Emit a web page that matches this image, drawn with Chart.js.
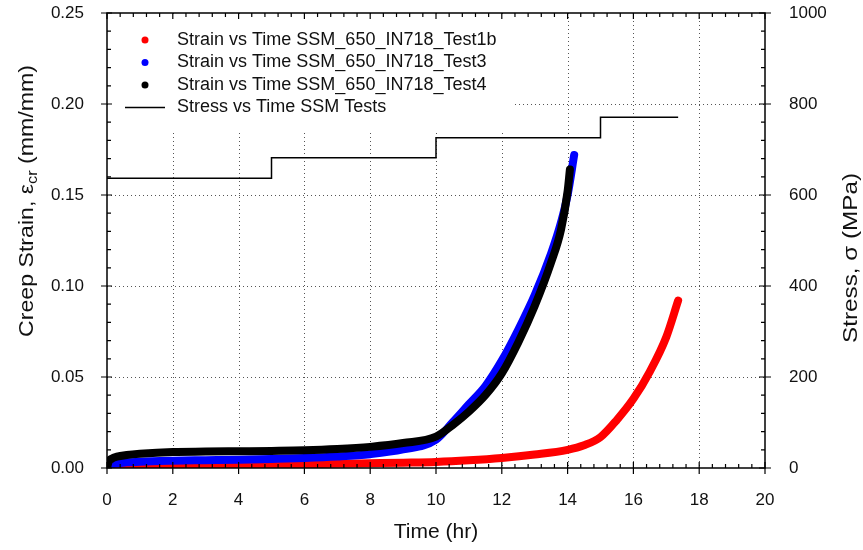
<!DOCTYPE html>
<html>
<head>
<meta charset="utf-8">
<script src="https://cdn.jsdelivr.net/npm/chart.js@4.4.1/dist/chart.umd.min.js"></script>
<style>
  html, body { margin: 0; padding: 0; background: #fff; }
  #creepChart { display: block; }
</style>
</head>
<body>
<canvas id="creepChart" width="863" height="550"></canvas>
<script>
// creep strain (mm/mm) vs time (hr)
const timeTest1b   = [0, 0.5, 1, 2, 3, 4, 5, 6, 7, 8, 9, 10, 11, 12, 13, 14, 14.5, 15, 15.5, 16, 16.5, 17, 17.36];
const strainTest1b = [0, 0.0005, 0.0008, 0.0012, 0.0015, 0.0017, 0.0019, 0.0021, 0.0023, 0.0026, 0.0029, 0.0033,
                      0.0042, 0.0055, 0.0074, 0.0100, 0.0125, 0.0170, 0.0265, 0.0380, 0.0530, 0.0720, 0.0920];

const timeTest3   = [0, 0.1, 0.3, 0.6, 1, 2, 3, 4, 5, 6, 7, 8, 9, 10, 10.5, 11, 11.5, 12, 12.5, 13, 13.5, 13.8, 14, 14.2];
const strainTest3 = [0, 0.0015, 0.0025, 0.0031, 0.0035, 0.0040, 0.0043, 0.0046, 0.0050, 0.0055, 0.0063, 0.0076,
                     0.0102, 0.0155, 0.0250, 0.0350, 0.0450, 0.0590, 0.0760, 0.0950, 0.1180, 0.1350, 0.1500, 0.1720];

const timeTest4   = [0, 0.05, 0.15, 0.3, 0.6, 1, 2, 3, 4, 5, 6, 7, 8, 9, 10, 10.5, 11, 11.5, 12, 12.5, 13, 13.5, 13.8, 14, 14.07];
const strainTest4 = [0, 0.0035, 0.0052, 0.0062, 0.0071, 0.0078, 0.0088, 0.0090, 0.0092, 0.0094, 0.0097, 0.0104, 0.0116,
                     0.0137, 0.0172, 0.0235, 0.0310, 0.0400, 0.0520, 0.0690, 0.0890, 0.1130, 0.1310, 0.1520, 0.1640];

// applied stress steps (MPa)
const stressTime = [0, 5, 10, 15, 17.36];
const stressMPa  = [637, 682, 726, 771, 771];

const legendLabels = [
  'Strain vs Time SSM_650_IN718_Test1b',
  'Strain vs Time SSM_650_IN718_Test3',
  'Strain vs Time SSM_650_IN718_Test4',
  'Stress vs Time SSM Tests'
];

const FONT = '"Liberation Sans", Arial, sans-serif';
const INK = '#111';

function toPoints(xs, ys) {
  return xs.map((x, i) => ({ x: x, y: ys[i] }));
}

function strainSet(label, xs, ys, color, order) {
  return {
    label: label,
    data: toPoints(xs, ys),
    showLine: true,
    cubicInterpolationMode: 'monotone',
    borderColor: color,
    backgroundColor: color,
    borderWidth: 8,
    borderCapStyle: 'round',
    borderJoinStyle: 'round',
    pointRadius: 0,
    yAxisID: 'y',
    order: order
  };
}

function drawVerticalTitle(ctx, parts, cx, cy, size, targetLen) {
  ctx.save();
  ctx.translate(cx, cy);
  ctx.rotate(-Math.PI / 2);
  const widths = parts.map(p => {
    ctx.font = (p.sub ? Math.round(size * 0.68) : size) + 'px ' + FONT;
    return ctx.measureText(p.text).width;
  });
  const total = widths.reduce((a, b) => a + b, 0);
  ctx.scale(targetLen / total, 1);
  ctx.textAlign = 'left';
  ctx.textBaseline = 'middle';
  ctx.fillStyle = INK;
  let x = -total / 2;
  parts.forEach((p, i) => {
    ctx.font = (p.sub ? Math.round(size * 0.68) : size) + 'px ' + FONT;
    ctx.fillText(p.text, x, p.sub ? size * 0.3 : 0);
    x += widths[i];
  });
  ctx.restore();
}

const framePlugin = {
  id: 'frame',
  beforeDatasetsDraw(chart) {
    const { ctx, chartArea: a, scales } = chart;
    ctx.save();
    // dotted grid at major ticks
    ctx.strokeStyle = '#555';
    ctx.lineWidth = 1;
    ctx.setLineDash([1, 3]);
    ctx.beginPath();
    for (let t = 2; t <= 18; t += 2) {
      const px = Math.round(scales.x.getPixelForValue(t)) + 0.5;
      ctx.moveTo(px, a.top);
      ctx.lineTo(px, a.bottom);
    }
    for (let i = 1; i <= 4; i++) {
      const py = Math.round(scales.y.getPixelForValue(i * 0.05)) + 0.5;
      ctx.moveTo(a.left, py);
      ctx.lineTo(a.right, py);
    }
    ctx.stroke();
    ctx.setLineDash([]);
    // legend box hides the grid behind it
    ctx.fillStyle = '#fff';
    ctx.fillRect(a.left + 1, a.top + 1, 407, 118);
    ctx.restore();
  },
  afterDraw(chart) {
    const { ctx, chartArea: a, scales } = chart;
    ctx.save();
    ctx.strokeStyle = '#000';
    ctx.lineWidth = 1.5;
    ctx.strokeRect(a.left, a.top, a.right - a.left, a.bottom - a.top);

    ctx.lineWidth = 1.2;
    ctx.beginPath();
    // bottom and top ticks
    for (let i = 0; i <= 50; i++) {
      const px = scales.x.getPixelForValue(i * 0.4);
      const major = i % 5 === 0;
      ctx.moveTo(px, a.bottom + (major ? 6 : 0));
      ctx.lineTo(px, a.bottom - (major ? 6 : 4));
      ctx.moveTo(px, a.top);
      ctx.lineTo(px, a.top + (major ? 6 : 4));
    }
    // left ticks
    for (let i = 0; i <= 25; i++) {
      const py = scales.y.getPixelForValue(i * 0.01);
      const major = i % 5 === 0;
      ctx.moveTo(a.left - (major ? 6 : 0), py);
      ctx.lineTo(a.left + (major ? 5 : 4), py);
    }
    // right ticks
    for (let i = 0; i <= 25; i++) {
      const py = scales.y1.getPixelForValue(i * 40);
      const major = i % 5 === 0;
      ctx.moveTo(a.right + (major ? 6 : 0), py);
      ctx.lineTo(a.right - (major ? 6 : 4), py);
    }
    ctx.stroke();

    // legend
    const lx = a.left + 38, ty = a.top + 27, step = 22.5;
    const colors = ['#ff0000', '#0000ff', '#000000'];
    colors.forEach((c, i) => {
      ctx.fillStyle = c;
      ctx.beginPath();
      ctx.arc(lx, ty + i * step, 3.5, 0, Math.PI * 2);
      ctx.fill();
    });
    ctx.strokeStyle = '#000';
    ctx.lineWidth = 1.5;
    ctx.beginPath();
    ctx.moveTo(lx - 20, ty + 3 * step);
    ctx.lineTo(lx + 20, ty + 3 * step);
    ctx.stroke();
    ctx.fillStyle = INK;
    ctx.font = '18px ' + FONT;
    ctx.textAlign = 'left';
    ctx.textBaseline = 'middle';
    legendLabels.forEach((t, i) => ctx.fillText(t, lx + 32, ty + i * step));

    // axis titles
    ctx.font = '21px ' + FONT;
    ctx.textAlign = 'center';
    ctx.fillText('Time (hr)', (a.left + a.right) / 2, 532);
    ctx.restore();

    drawVerticalTitle(ctx, [
      { text: 'Creep Strain, \u03b5' },
      { text: 'cr', sub: true },
      { text: ' (mm/mm)' }
    ], 27, 201, 20, 272);
    drawVerticalTitle(ctx, [{ text: 'Stress, \u03c3 (MPa)' }], 851, 258, 20, 170);
  }
};

const tickFont = { family: FONT, size: 17 };

// keep the plot box where it is, ignoring tick-label overhang
function noOverhang(s) {
  s.paddingTop = 0;
  s.paddingBottom = 0;
  s.paddingLeft = 0;
  s.paddingRight = 0;
}

new Chart(document.getElementById('creepChart').getContext('2d'), {
  type: 'scatter',
  data: {
    datasets: [
      {
        label: legendLabels[3],
        data: toPoints(stressTime, stressMPa),
        showLine: true,
        stepped: 'before',
        borderColor: '#000',
        borderWidth: 1.5,
        pointRadius: 0,
        yAxisID: 'y1',
        order: 0
      },
      strainSet(legendLabels[2], timeTest4, strainTest4, '#000000', 1),
      strainSet(legendLabels[1], timeTest3, strainTest3, '#0000ff', 2),
      strainSet(legendLabels[0], timeTest1b, strainTest1b, '#ff0000', 3)
    ]
  },
  options: {
    responsive: false,
    animation: false,
    devicePixelRatio: 1,
    layout: { padding: { top: 13, left: 0, right: 0, bottom: 0 } },
    plugins: {
      legend: { display: false },
      tooltip: { enabled: false }
    },
    scales: {
      x: {
        type: 'linear',
        min: 0, max: 20,
        grid: { display: false },
        border: { display: false },
        ticks: { stepSize: 2, font: tickFont, color: INK, padding: 14, maxRotation: 0 },
        afterFit: s => { noOverhang(s); s.height = 82; }
      },
      y: {
        type: 'linear',
        position: 'left',
        min: 0, max: 0.25,
        grid: { display: false },
        border: { display: false },
        ticks: { stepSize: 0.05, font: tickFont, color: INK, padding: 15, callback: v => v.toFixed(2) },
        afterFit: s => { noOverhang(s); s.width = 107; }
      },
      y1: {
        type: 'linear',
        position: 'right',
        min: 0, max: 1000,
        grid: { display: false },
        border: { display: false },
        ticks: { stepSize: 200, font: tickFont, color: INK, padding: 16, callback: v => String(v) },
        afterFit: s => { noOverhang(s); s.width = 98; }
      }
    }
  },
  plugins: [framePlugin]
});
</script>
</body>
</html>
